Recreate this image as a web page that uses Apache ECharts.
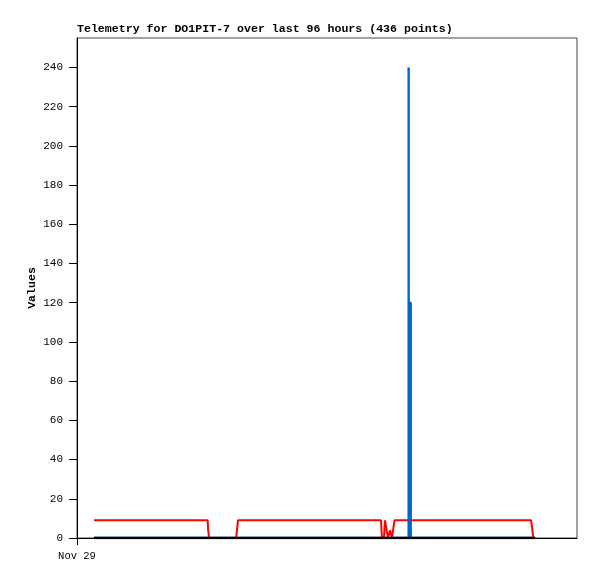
<!DOCTYPE html>
<html>
<head>
<meta charset="utf-8">
<script src="https://cdn.jsdelivr.net/npm/echarts@6/dist/echarts.min.js"></script>
<style>html,body{margin:0;padding:0;background:#fff}#c{width:597px;height:579px}</style>
</head>
<body>
<div id="c"></div>
<script>
// x values: hours since Nov 29 00:00
var xTickLabels = ['Nov 29'];
var redX = [3.7, 28.4, 28.5, 28.7, 34.6, 34.8, 35.0, 66.09, 66.3, 66.74, 66.96, 67.39, 67.61, 68.04, 68.48, 69.02, 98.7, 98.9, 99.2];
var redY = [9, 9, 4.5, 0, 0, 4.5, 9, 9, 0, 0, 9, 9, 0, 4, 0, 9, 9, 6, 0];
var blueX = [3.7, 72.1, 72.1, 72.1, 72.55, 72.55, 99.6];
var blueY = [0, 0, 240, 120, 120, 0, 0];
var blackX = [3.7, 99.6];
var blackY = [0, 0];

function pairs(xs, ys) { return xs.map(function (x, i) { return [x, ys[i]]; }); }

var chart = echarts.init(document.getElementById('c'), null, { renderer: 'canvas' });
var mono = 'Liberation Mono, DejaVu Sans Mono, monospace';
chart.setOption({
  animation: false,
  backgroundColor: '#fff',
  title: {
    text: 'Telemetry for DO1PIT-7 over last 96 hours (436 points)',
    left: 77, top: 23,
    padding: 0,
    textStyle: { fontFamily: mono, fontSize: 11.6, fontWeight: 'bold', color: '#000' }
  },
  grid: { left: 77, right: 20, top: 38, bottom: 41, show: true, borderColor: '#444', borderWidth: 1, backgroundColor: 'transparent' },
  xAxis: {
    type: 'value', min: 0, max: 108.7, interval: 200,
    splitLine: { show: false },
    axisLine: { show: true, onZero: false, lineStyle: { color: '#000', width: 1 } },
    axisTick: { show: true, length: 7, lineStyle: { color: '#000' } },
    axisLabel: {
      showMaxLabel: false, margin: 13,
      fontFamily: mono, fontSize: 10.5, color: '#000',
      formatter: function (v) { return v === 0 ? xTickLabels[0] : ''; }
    }
  },
  yAxis: {
    type: 'value', min: 0, max: 255, interval: 20,
    name: 'Values', nameLocation: 'middle', nameGap: 39, nameRotate: 90, nameMoveOverlap: false,
    nameTextStyle: { fontFamily: mono, fontSize: 11.6, fontWeight: 'bold', color: '#000' },
    splitLine: { show: false },
    axisLine: { show: true, lineStyle: { color: '#000', width: 1 } },
    axisTick: { show: true, length: 8, lineStyle: { color: '#000' } },
    axisLabel: { showMaxLabel: false, margin: 14, fontFamily: mono, fontSize: 11, color: '#000' }
  },
  series: [
    { type: 'line', data: pairs(redX, redY), showSymbol: false, symbol: 'none', z: 2,
      lineStyle: { color: '#ff0000', width: 2, join: 'bevel' } },
    { type: 'line', data: pairs(blueX, blueY), showSymbol: false, symbol: 'none', z: 3,
      lineStyle: { color: '#0066cc', width: 2.4, join: 'bevel' } },
    { type: 'line', data: pairs(blackX, blackY), showSymbol: false, symbol: 'none', z: 4,
      lineStyle: { color: '#000000', width: 2.5 } }
  ]
});
</script>
</body>
</html>
